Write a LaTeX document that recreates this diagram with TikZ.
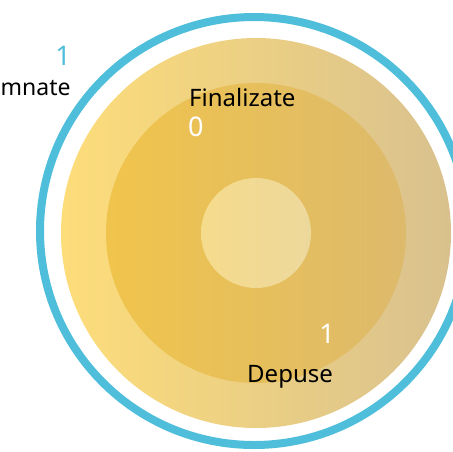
\documentclass[tikz,border=0pt]{standalone}
\usepackage{fontspec}
\setmainfont{Noto Sans}
\usetikzlibrary{positioning}

\definecolor{ringblue}{RGB}{78,190,218}
\definecolor{outerL}{RGB}{253,221,122}
\definecolor{outerM}{RGB}{244,218,138}
\definecolor{outerR}{RGB}{217,193,142}
\definecolor{midL}{RGB}{240,196,76}
\definecolor{midM}{RGB}{234,202,100}
\definecolor{midR}{RGB}{221,186,108}
\definecolor{coreL}{RGB}{245,219,140}
\definecolor{coreR}{RGB}{237,216,156}

\begin{document}
\begin{tikzpicture}[x=1pt,y=-1pt,
  lbl/.style={font=\fontsize{24}{28}\selectfont,text=black,inner sep=0pt},
  num/.style={font=\fontsize{27}{32}\selectfont,inner sep=0pt}]
\useasboundingbox (0,0) rectangle (453,451);
\clip (0,0) rectangle (453,451);

% discs
\shade[left color=outerL,middle color=outerM,right color=outerR] (256,233) circle[radius=195pt];
\shade[left color=midL,middle color=midM,right color=midR] (256,233) circle[radius=150pt];
\shade[left color=coreL,right color=coreR] (256,233) circle[radius=55pt];

% ring
\draw[ringblue,line width=8pt] (254,231) circle[radius=214pt];

% labels
\node[num,text=ringblue,anchor=base] (oneblue) at (63,65) {1};
\node[lbl,font=\fontsize{23}{27}\selectfont,anchor=base west] (mnate) at (0.5,95) {mnate};
\node[lbl,anchor=base west] (final) at (189,106) {Finalizate};
\node[num,text=white,anchor=base west] (zero) at (188,136) {0};
\node[num,text=white,anchor=base] (onewhite) at (327,343) {1};
\node[lbl,anchor=base west] (depuse) at (247,382) {Depuse};
\end{tikzpicture}
\end{document}
